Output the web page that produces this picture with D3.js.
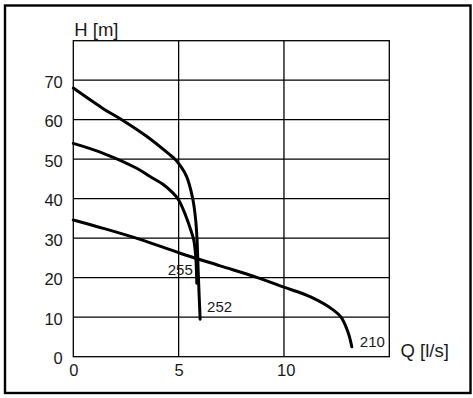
<!DOCTYPE html>
<html>
<head>
<meta charset="utf-8">
<script src="https://cdn.jsdelivr.net/npm/d3@7"></script>
<style>
  html, body { margin: 0; padding: 0; background: #fff; }
  svg { display: block; }
  text { font-family: "Liberation Sans", Arial, sans-serif; fill: #1a1a1a; }
</style>
</head>
<body>
<svg id="chart"></svg>
<script>
// pump curves, Q in l/s, H in m
const q252 = [0, 1.42, 2.3, 3.48, 4.59, 4.83, 5.1, 5.38, 5.67, 5.81, 5.87, 5.94, 6.02]
const h252 = [68, 62.8, 60, 55.8, 51.1, 50, 48.2, 45.6, 40, 34.6, 30, 20, 9.5]

const q255 = [0, 1.42, 3.01, 3.64, 4.27, 4.7, 4.96, 5.2, 5.4, 5.58, 5.72, 5.81, 5.85, 5.86]
const h255 = [54, 51.5, 47.7, 45.6, 43.6, 41.6, 40, 37.5, 34.8, 32, 29.5, 25.5, 21, 18.6]

const q210 = [0, 1.42, 3.17, 5.07, 6.97, 8.71, 10, 11.24, 12.35, 12.71, 13.06, 13.22]
const h210 = [34.6, 32.5, 29.7, 26.2, 23, 20.1, 17.6, 15.2, 11.8, 10, 5.9, 2.5]

const curveNames = ["252", "255", "210"]
const xTicks = [0, 5, 10]
const yTicks = [0, 10, 20, 30, 40, 50, 60, 70]

const width = 473, height = 398
const margin = { top: 40.7, right: 83.7, bottom: 41.3, left: 73.3 }

const series = [
  { name: curveNames[0], q: q252, h: h252, dx: 7, dy: -7, anchor: "start" },
  { name: curveNames[1], q: q255, h: h255, dx: -4, dy: -8, anchor: "end" },
  { name: curveNames[2], q: q210, h: h210, dx: 8, dy: 0.5, anchor: "start" },
]

const x = d3.scaleLinear()
  .domain([0, 15])
  .range([margin.left, width - margin.right])
const y = d3.scaleLinear()
  .domain([0, 80])
  .range([height - margin.bottom, margin.top])

const svg = d3.select("#chart")
    .attr("width", width)
    .attr("height", height)
    .attr("viewBox", `0 0 ${width} ${height}`)

// outer frame
svg.append("rect")
    .attr("x", 5).attr("y", 5.5)
    .attr("width", 465.5).attr("height", 387.5)
    .attr("fill", "none")
    .attr("stroke", "#000")
    .attr("stroke-width", 2.4)

// grid
svg.append("g")
    .attr("stroke", "#000")
    .attr("stroke-width", 1.3)
  .selectAll("line.h")
  .data(y.ticks(8).filter(d => d > 0 && d < 80))
  .join("line")
    .attr("x1", x(0)).attr("x2", x(15))
    .attr("y1", d => y(d)).attr("y2", d => y(d))

svg.append("g")
    .attr("stroke", "#000")
    .attr("stroke-width", 1.3)
  .selectAll("line.v")
  .data(xTicks.filter(d => d > 0))
  .join("line")
    .attr("y1", y(0)).attr("y2", y(80))
    .attr("x1", d => x(d)).attr("x2", d => x(d))

svg.append("rect")
    .attr("x", x(0)).attr("y", y(80))
    .attr("width", x(15) - x(0)).attr("height", y(0) - y(80))
    .attr("fill", "none")
    .attr("stroke", "#000")
    .attr("stroke-width", 1.3)

// axes (labels only)
svg.append("g")
    .attr("transform", `translate(${x(0)},0)`)
    .call(d3.axisLeft(y).tickValues(yTicks).tickSize(0).tickPadding(10.5))
    .call(g => g.select(".domain").remove())
    .call(g => g.selectAll("text")
        .attr("font-size", 16.5)
        .attr("font-family", null)
        .attr("fill", "#1a1a1a")
        .attr("dy", "0.42em"))

svg.append("g")
    .attr("transform", `translate(0,${y(0)})`)
    .call(d3.axisBottom(x).tickValues(xTicks).tickSize(0).tickPadding(8))
    .call(g => g.select(".domain").remove())
    .call(g => g.selectAll("text")
        .attr("font-size", 16.5)
        .attr("font-family", null)
        .attr("fill", "#1a1a1a")
        .attr("dx", (d, i) => d >= 10 ? "0.1em" : 0))

svg.append("text")
    .attr("x", x(0) + 1)
    .attr("y", 36)
    .attr("font-size", 18.5)
    .text("H [m]")

svg.append("text")
    .attr("x", 400.5)
    .attr("y", 356.5)
    .attr("font-size", 18.5)
    .text("Q [l/s]")

// curves
const line = d3.line()
  .x(d => x(d[0]))
  .y(d => y(d[1]))
  .curve(d3.curveCatmullRom.alpha(0.5))

svg.append("g")
    .attr("fill", "none")
    .attr("stroke", "#000")
    .attr("stroke-width", 3)
    .attr("stroke-linecap", "round")
  .selectAll("path")
  .data(series)
  .join("path")
    .attr("d", s => line(s.q.map((v, i) => [v, s.h[i]])))

svg.append("g")
  .selectAll("text")
  .data(series)
  .join("text")
    .attr("font-size", 15)
    .attr("text-anchor", s => s.anchor)
    .attr("x", s => x(s.q[s.q.length - 1]) + s.dx)
    .attr("y", s => y(s.h[s.h.length - 1]) + s.dy)
    .text(s => s.name)
</script>
</body>
</html>
